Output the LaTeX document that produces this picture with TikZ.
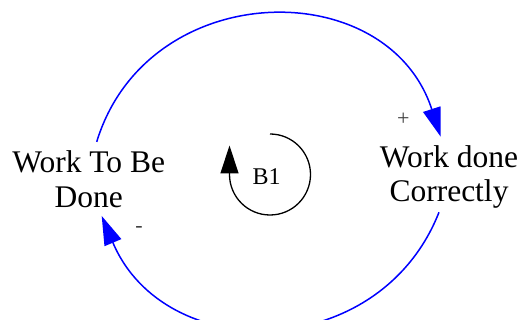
\documentclass[tikz,border=0pt]{standalone}
\usepackage{fontspec}
\setmainfont{Liberation Serif}
\newfontfamily\loopfont{Liberation Serif}
\usepackage{xcolor}
\usepackage{tikz}
\usetikzlibrary{arrows.meta,calc,positioning}
\definecolor{looplinkblue}{HTML}{0000FF}
\definecolor{loopsign}{HTML}{404040}
\tikzset{%
  loopvar/.style={%
    inner sep=0pt,
    align=center,
    font=\loopfont\fontsize{31.5}{34.5}\selectfont
  },
  looplink/.style={%
    -{Triangle[length=29pt,width=18pt]},
    line width=1.5pt,
    draw=looplinkblue
  },
  loopsignlabel/.style={%
    inner sep=0pt,
    text=loopsign,
    font=\loopfont\fontsize{22}{24}\selectfont
  },
  loopmark/.style={%
    -{Triangle[length=28pt,width=18pt]},
    line width=1.3pt,
    draw=black
  }
}
\begin{document}
\begin{tikzpicture}[x=1pt,y=1pt]
    \useasboundingbox (0,0) rectangle (525,-320);
    \node[loopvar] (todo) at (88.7,-179.4) {Work To Be\\Done};
    \node[loopvar] (correct) at (449,-177) {Work done\\Correctly};
    \node[font=\loopfont\fontsize{24}{26}\selectfont,inner sep=0pt] (b1) at (266.7,-176.7) {B1};
    \node[loopsignlabel] (plus) at (403.3,-119) {+};
    \node[loopsignlabel] (minus) at (139,-229.7) {-};

    \draw[looplink] ([shift={(8pt,9pt)}]todo.north) to[out=73,in=108,looseness=1.28] ([shift={(-8.3pt,8.5pt)}]correct.north);
    \draw[looplink] ([shift={(-10pt,-3.5pt)}]correct.south) to[out=-111.5,in=-67.2,looseness=1.23] ([shift={(13pt,-8pt)}]todo.south);

    % balancing loop marker
    \draw[loopmark] ([shift={(3.3pt,42.7pt)}]b1.center) arc[start angle=90,end angle=-180,radius=40.5pt] -- ++(0,29);
  \end{tikzpicture}
\end{document}
